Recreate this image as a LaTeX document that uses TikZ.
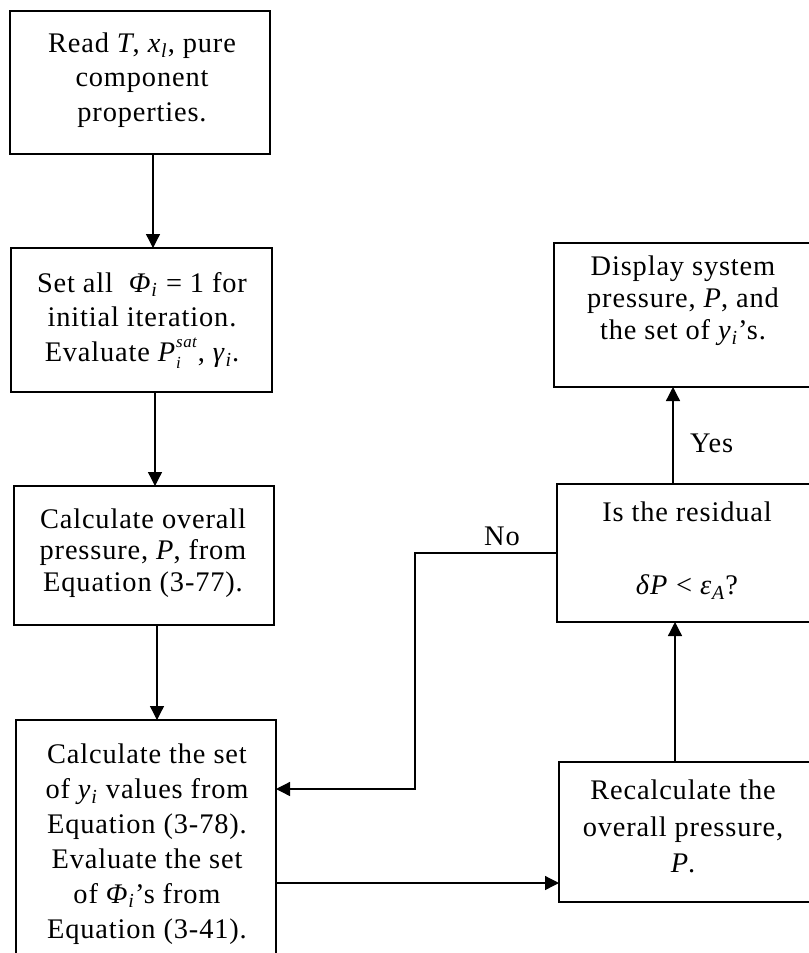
\documentclass[tikz,border=0pt]{standalone}
\usepackage{fontspec}
\setmainfont{Liberation Serif}[LetterSpace=3]
\usetikzlibrary{arrows.meta}

% italic subscript, and a stacked superscript/subscript pair
\newcommand\isub[1]{\textsubscript{\textit{#1}}}
\newcommand\supsub[2]{%
  \rlap{\raisebox{-0.22em}{\fontsize{17}{17}\selectfont\textit{#2}}}%
  \raisebox{0.5em}{\fontsize{17}{17}\selectfont\textit{#1}}}

\tikzset{
  box/.style={draw, line width=1.4bp, rectangle, inner sep=0pt, outer sep=0pt},
  txt/.style={align=center, inner sep=0pt, font=\fontsize{28.5}{#1}\selectfont},
  lbl/.style={inner sep=0pt, font=\fontsize{28.5}{32}\selectfont},
  arr/.style={line width=1.3bp, -{Triangle[length=14bp,width=14bp]}},
}

\begin{document}
\begin{tikzpicture}[x=1bp,y=-1bp]
\useasboundingbox (0,0) rectangle (809,953);
\fill[white] (0,0) rectangle (809,953);
\clip (0,0) rectangle (809,953);

% left column of steps
\node[box, minimum width=260bp, minimum height=143bp] (b1) at (140,82.5) {};
\node[box, minimum width=261bp, minimum height=144bp] (b2) at (141.5,320) {};
\node[box, minimum width=260bp, minimum height=139bp] (b3) at (144,555.5) {};
\node[box, minimum width=260bp, minimum height=265bp] (b4) at (146,852.5) {};

% right column of steps
\node[box, minimum width=258bp, minimum height=144bp] (b5) at (683,315) {};
\node[box, minimum width=257bp, minimum height=138bp] (b6) at (685.5,553) {};
\node[box, minimum width=255bp, minimum height=140bp] (b7) at (686.5,832) {};

% box texts
\node[txt=35pt] (t1) at (142,80)
  {\strut Read \textit{T}, \textit{x}\isub{l}, pure\\component\\properties.\strut};
\node[txt=35pt] (t2) at (142,320)
  {\strut Set all \ \textit{Φ}\isub{i} = 1 for\\initial iteration.\\Evaluate \textit{P}\supsub{sat}{i}, \textit{γ}\isub{i}.\strut};
\node[txt=32pt] (t3) at (143,553.6)
  {\strut Calculate overall\\pressure, \textit{P}, from\\Equation (3-77).\strut};
\node[txt=35pt] (t4) at (147,844)
  {\strut Calculate the set\\of \textit{y}\isub{i} values from\\Equation (3-78).\\Evaluate the set\\of \textit{Φ}\isub{i}’s from\\Equation (3-41).\strut};
\node[txt=32.5pt] (t5) at (683,301)
  {\strut Display system\\pressure, \textit{P}, and\\the set of \textit{y}\isub{i}’s.\strut};
\node[txt=36.5pt] (t6) at (687,551)
  {\strut Is the residual\\\strut\\\textit{δP} < \textit{ε}\isub{A}?\strut};
\node[txt=36.5pt] (t7) at (683,829)
  {\strut Recalculate the\\overall pressure,\\\textit{P}.\strut};

% branch labels
\node[lbl, anchor=base west] (yes) at (690,452) {Yes};
\node[lbl, anchor=base] (no) at (502,545) {No};

% connectors
\coordinate (nc) at (415,789);
\draw[arr] ([xshift=13bp]b1.south) -- ([xshift=13bp]b1.south |- b2.north);
\draw[arr] ([xshift=13.5bp]b2.south) -- ([xshift=13.5bp]b2.south |- b3.north);
\draw[arr] ([xshift=13bp]b3.south) -- ([xshift=13bp]b3.south |- b4.north);
\draw[arr] ([yshift=-30.5bp]b4.east) -- ([yshift=-30.5bp]b4.east -| b7.west);
\draw[arr] ([xshift=-11.5bp]b7.north) -- ([xshift=-11.5bp]b7.north |- b6.south);
\draw[arr] ([xshift=-12.5bp]b6.north) -- ([xshift=-12.5bp]b6.north |- b5.south);
\draw[arr] (b6.west) -| (nc) -- (nc -| b4.east);
\end{tikzpicture}
\end{document}
